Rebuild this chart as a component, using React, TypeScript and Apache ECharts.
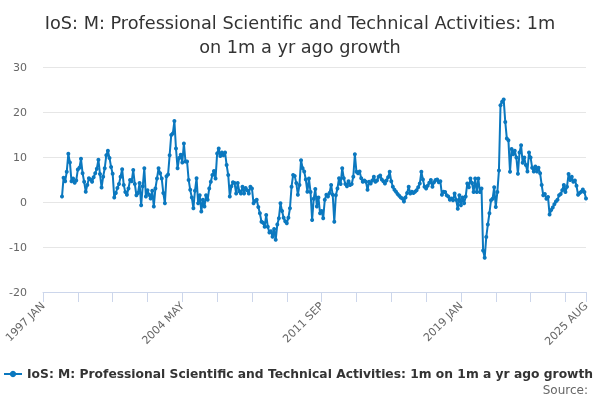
import React, { useEffect, useRef } from 'react';
import * as echarts from 'echarts';

const MONTHS = ['JAN', 'FEB', 'MAR', 'APR', 'MAY', 'JUN', 'JUL', 'AUG', 'SEP', 'OCT', 'NOV', 'DEC'];
const FIRST_YEAR = 1997;
const LAST_YEAR = 2025;
const LAST_MONTH = 8; // AUG

const SERIES_NAME = 'IoS: M: Professional Scientific and Technical Activities: 1m on 1m a yr ago growth';
const TITLE = 'IoS: M: Professional Scientific and Technical Activities: 1m\non 1m a yr ago growth';

// monthly values, one row per year
const growth1997to2001 = [
  null, null, null, null, null, null, null, null, null, null, null, null,
  1.2, 5.4, 4.6, 6.7, 10.7, 8.8, 4.6, 5.2, 4.3, 4.8, 7.2, 7.6,
  9.6, 6.4, 4.5, 2.3, 3.8, 5.3, 5.0, 4.5, 5.5, 6.4, 7.4, 9.4,
  6.2, 3.2, 5.6, 7.5, 10.4, 11.4, 9.8, 7.8, 6.3, 1.0, 2.0, 3.1,
  4.0, 5.6, 7.3, 3.8, 2.2, 1.6, 3.0, 4.9, 4.6, 7.1, 4.0, 1.5,
];
const growth2002to2006 = [
  2.0, 4.2, -0.7, 3.5, 7.5, 1.2, 2.6, 1.6, 0.8, 2.5, -1.0, 3.0,
  5.2, 7.5, 6.4, 5.2, 2.0, -0.3, 5.7, 6.1, 10.4, 14.9, 15.2, 18.0,
  11.9, 7.5, 9.8, 10.5, 8.8, 13.0, 9.0, 9.0, 4.9, 2.7, 1.0, -1.4,
  2.5, 5.3, -0.3, 1.5, -2.1, 0.5, -1.0, 1.5, 0.5, 3.0, 4.5, 6.0,
  6.9, 5.2, 10.8, 11.9, 10.2, 11.0, 10.4, 11.0, 8.2, 6.0, 1.2, 3.5,
];
const growth2007to2011 = [
  4.4, 4.2, 1.9, 4.2, 2.4, 1.9, 3.4, 1.9, 3.1, 2.6, 1.9, 3.4,
  3.0, -0.3, 0.2, 0.5, -1.1, -2.5, -4.4, -4.6, -5.5, -2.9, -5.5, -6.8,
  -6.5, -7.7, -6.0, -8.4, -5.0, -3.6, -0.3, -2.0, -3.5, -4.3, -4.7, -3.5,
  -1.4, 3.4, 6.0, 5.8, 4.2, 1.6, 3.8, 9.3, 7.5, 6.8, 5.0, 2.3,
  5.2, 2.2, -4.0, 0.7, 2.9, -1.0, 1.0, -2.5, -2.0, -3.6, 0.5, 1.6,
];
const growth2012to2016 = [
  1.2, 2.0, 3.8, 1.6, -4.4, 1.5, 3.0, 5.3, 4.0, 7.5, 5.3, 4.0,
  3.5, 4.6, 3.8, 4.0, 5.6, 10.6, 6.7, 6.4, 6.8, 5.3, 4.5, 4.8,
  4.5, 2.7, 4.5, 4.1, 4.8, 5.6, 4.5, 4.8, 5.6, 5.9, 5.0, 4.6,
  4.1, 4.8, 5.5, 6.7, 4.6, 3.4, 2.7, 2.3, 1.8, 1.4, 1.0, 0.8,
  0.1, 1.0, 2.0, 3.4, 1.9, 2.3, 2.0, 2.3, 2.6, 3.3, 4.1, 6.7,
];
const growth2017to2021 = [
  5.0, 3.4, 3.0, 3.6, 4.3, 4.9, 3.4, 4.4, 4.9, 5.0, 4.4, 4.6,
  1.6, 2.3, 2.2, 1.5, 1.2, 0.5, 0.8, 0.4, 1.9, 0.5, -1.5, 1.5,
  -0.7, 1.0, -0.3, 1.2, 4.1, 3.3, 5.2, 4.2, 2.2, 5.2, 2.2, 5.2,
  2.2, 3.0, -10.8, -12.4, -7.8, -5.0, -2.5, 0.4, 0.7, 3.3, -1.1, 2.2,
  7.0, 21.5, 22.3, 22.8, 17.8, 14.1, 13.7, 6.7, 11.8, 10.6, 11.4, 9.9,
];
const growth2022to2025 = [
  6.3, 11.0, 12.6, 8.7, 9.9, 8.2, 6.8, 11.0, 9.9, 7.6, 6.8, 7.9,
  6.8, 7.6, 6.4, 3.8, 1.5, 1.8, 0.7, 1.1, -2.8, -1.8, -1.2, -0.5,
  0.1, 0.5, 1.5, 1.8, 2.6, 3.8, 2.2, 3.4, 6.2, 4.9, 5.6, 4.5,
  4.8, 3.6, 1.6, 2.0, 2.3, 2.8, 2.2, 0.8,
];

const growth = [
  ...growth1997to2001,
  ...growth2002to2006,
  ...growth2007to2011,
  ...growth2012to2016,
  ...growth2017to2021,
  ...growth2022to2025,
];

const months: string[] = [];
for (let y = FIRST_YEAR; y <= LAST_YEAR; y++) {
  for (let m = 0; m < 12; m++) {
    if (y === LAST_YEAR && m >= LAST_MONTH) break;
    months.push(`${y} ${MONTHS[m]}`);
  }
}

const LABEL_STEP = 88;
const TICK_STEP = 22;

const App: React.FC = () => {
  const chartRef = useRef<HTMLDivElement>(null);

  useEffect(() => {
    if (!chartRef.current) return;
    const chart = echarts.init(chartRef.current, null, { renderer: 'svg' });
    const last = months.length - 1;

    const option: any = {
      animation: false,
      textStyle: { fontFamily: 'DejaVu Sans' },
      title: {
        text: TITLE,
        left: 'center',
        top: 6,
        textStyle: {
          fontSize: 17.7,
          fontWeight: 'normal',
          color: '#333333',
          lineHeight: 24,
        },
      },
      grid: { left: 43, right: 14, top: 67, bottom: 108 },
      legend: {
        left: 3,
        top: 368,
        padding: 0,
        itemWidth: 18,
        itemHeight: 8,
        itemGap: 4,
        data: [SERIES_NAME],
        textStyle: { fontSize: 12.3, fontWeight: 'bold', color: '#333333' },
      },
      graphic: [
        {
          type: 'text',
          right: 12,
          top: 384,
          style: { text: 'Source:', fontSize: 12, fill: '#666666', fontFamily: 'DejaVu Sans' },
        },
      ],
      xAxis: {
        type: 'category',
        data: months,
        boundaryGap: false,
        axisLine: { onZero: false, lineStyle: { color: '#ccd6eb' } },
        axisTick: {
          length: 10,
          lineStyle: { color: '#ccd6eb' },
          interval: (i: number) => i % TICK_STEP === 0 || i === last,
        },
        axisLabel: {
          rotate: 45,
          color: '#666666',
          fontSize: 11,
          margin: 12,
          interval: (i: number) => i % LABEL_STEP === 0 || i === last,
        },
      },
      yAxis: {
        type: 'value',
        min: -20,
        max: 30,
        interval: 10,
        axisLine: { show: false },
        axisTick: { show: false },
        axisLabel: { color: '#666666', fontSize: 11, margin: 16 },
        splitLine: { lineStyle: { color: '#e6e6e6' } },
      },
      series: [
        {
          name: SERIES_NAME,
          type: 'line',
          data: growth,
          symbol: 'circle',
          symbolSize: 4,
          showAllSymbol: true,
          connectNulls: false,
          itemStyle: { color: '#0b78bf' },
          lineStyle: { color: '#0b78bf', width: 2 },
        },
      ],
    };

    chart.setOption(option);
    return () => {
      chart.dispose();
    };
  }, []);

  return (
    <div
      ref={chartRef}
      style={{ position: 'fixed', left: 0, top: 0, width: 600, height: 400 }}
    />
  );
};

export default App;
